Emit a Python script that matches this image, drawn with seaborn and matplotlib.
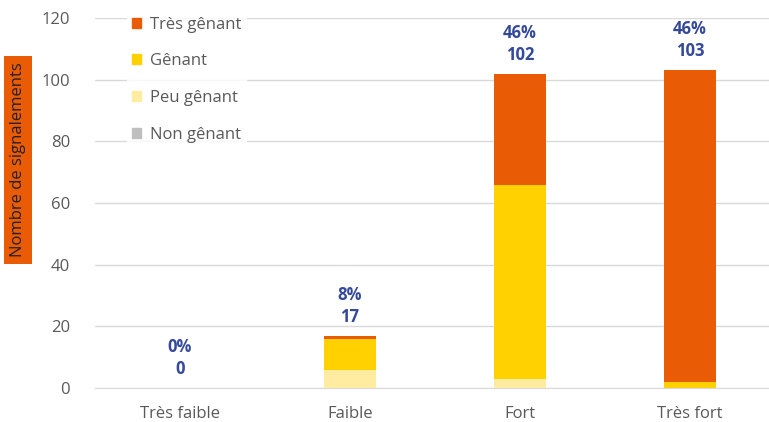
import numpy as np
import pandas as pd
import matplotlib
matplotlib.use("Agg")
import matplotlib.pyplot as plt
import seaborn as sns

categories = ["Très faible", "Faible", "Fort", "Très fort"]
non_genant = [0, 0, 0, 0]
peu_genant = [0, 6, 3, 0]
genant = [0, 10, 63, 2]
tres_genant = [0, 1, 36, 101]
percent_labels = ["0%", "8%", "46%", "46%"]

series_names = ["Non gênant", "Peu gênant", "Gênant", "Très gênant"]
series_values = [non_genant, peu_genant, genant, tres_genant]
colors = {"Très gênant": "#E95B05", "Gênant": "#FFD100",
          "Peu gênant": "#FFECA0", "Non gênant": "#BFBFBF"}

sns.set_style("white")
plt.rcParams["font.family"] = ["Open Sans", "DejaVu Sans"]

fig = plt.figure(figsize=(7.69, 4.22), dpi=100)
ax = fig.add_axes([95 / 769, 34 / 422, 680 / 769, 370 / 422])

# cumulative stacks, drawn from the tallest layer down
cum = np.cumsum(np.array(series_values), axis=0)
df = pd.DataFrame(cum.T, columns=series_names)
df["cat"] = categories
for name in reversed(series_names):
    sns.barplot(data=df, x="cat", y=name, color=colors[name], width=0.31,
                saturation=1, linewidth=0, ax=ax, zorder=2)

totals = cum[-1]
for i, (t, p) in enumerate(zip(totals, percent_labels)):
    ax.annotate(str(t), (i, t), xytext=(0, 19), textcoords="offset pixels",
                ha="center", va="center", fontsize=12, fontweight="bold",
                color="#34499A")
    ax.annotate(p, (i, t), xytext=(0, 41), textcoords="offset pixels",
                ha="center", va="center", fontsize=12, fontweight="bold",
                color="#34499A")

ax.set_ylim(0, 120)
ax.set_yticks(range(0, 121, 20))
ax.set_xlim(-0.5, 3.5)
ax.grid(axis="y", color="#D9D9D9", linewidth=1, zorder=0)
ax.set_axisbelow(True)
for s in ["top", "right", "left"]:
    ax.spines[s].set_visible(False)
ax.spines["bottom"].set_color("#D9D9D9")
ax.tick_params(axis="y", length=0, pad=18, labelsize=12, labelcolor="#595959")
ax.tick_params(axis="x", length=0, pad=13, labelsize=12, labelcolor="#595959")
ax.set_xlabel("")
ax.set_ylabel("")

handles = [plt.Rectangle((0, 0), 1, 1, color=colors[n]) for n in reversed(series_names)]
leg = ax.legend(handles, list(reversed(series_names)), loc="upper left",
                bbox_to_anchor=(0.035, 1.04), frameon=True, fontsize=12,
                handlelength=0.55, handleheight=0.55, handletextpad=0.5,
                labelspacing=1.25, borderpad=0.3, labelcolor="#595959")
leg.get_frame().set_facecolor("white")
leg.get_frame().set_edgecolor("white")
leg.set_zorder(5)

fig.text(18 / 769, 1 - 160 / 422, "Nombre de signalements", rotation=90,
         ha="center", va="center", fontsize=12, color="#222222",
         bbox=dict(facecolor="#E95B05", edgecolor="none", pad=4.5))

fig.savefig("out.png", dpi=100)
